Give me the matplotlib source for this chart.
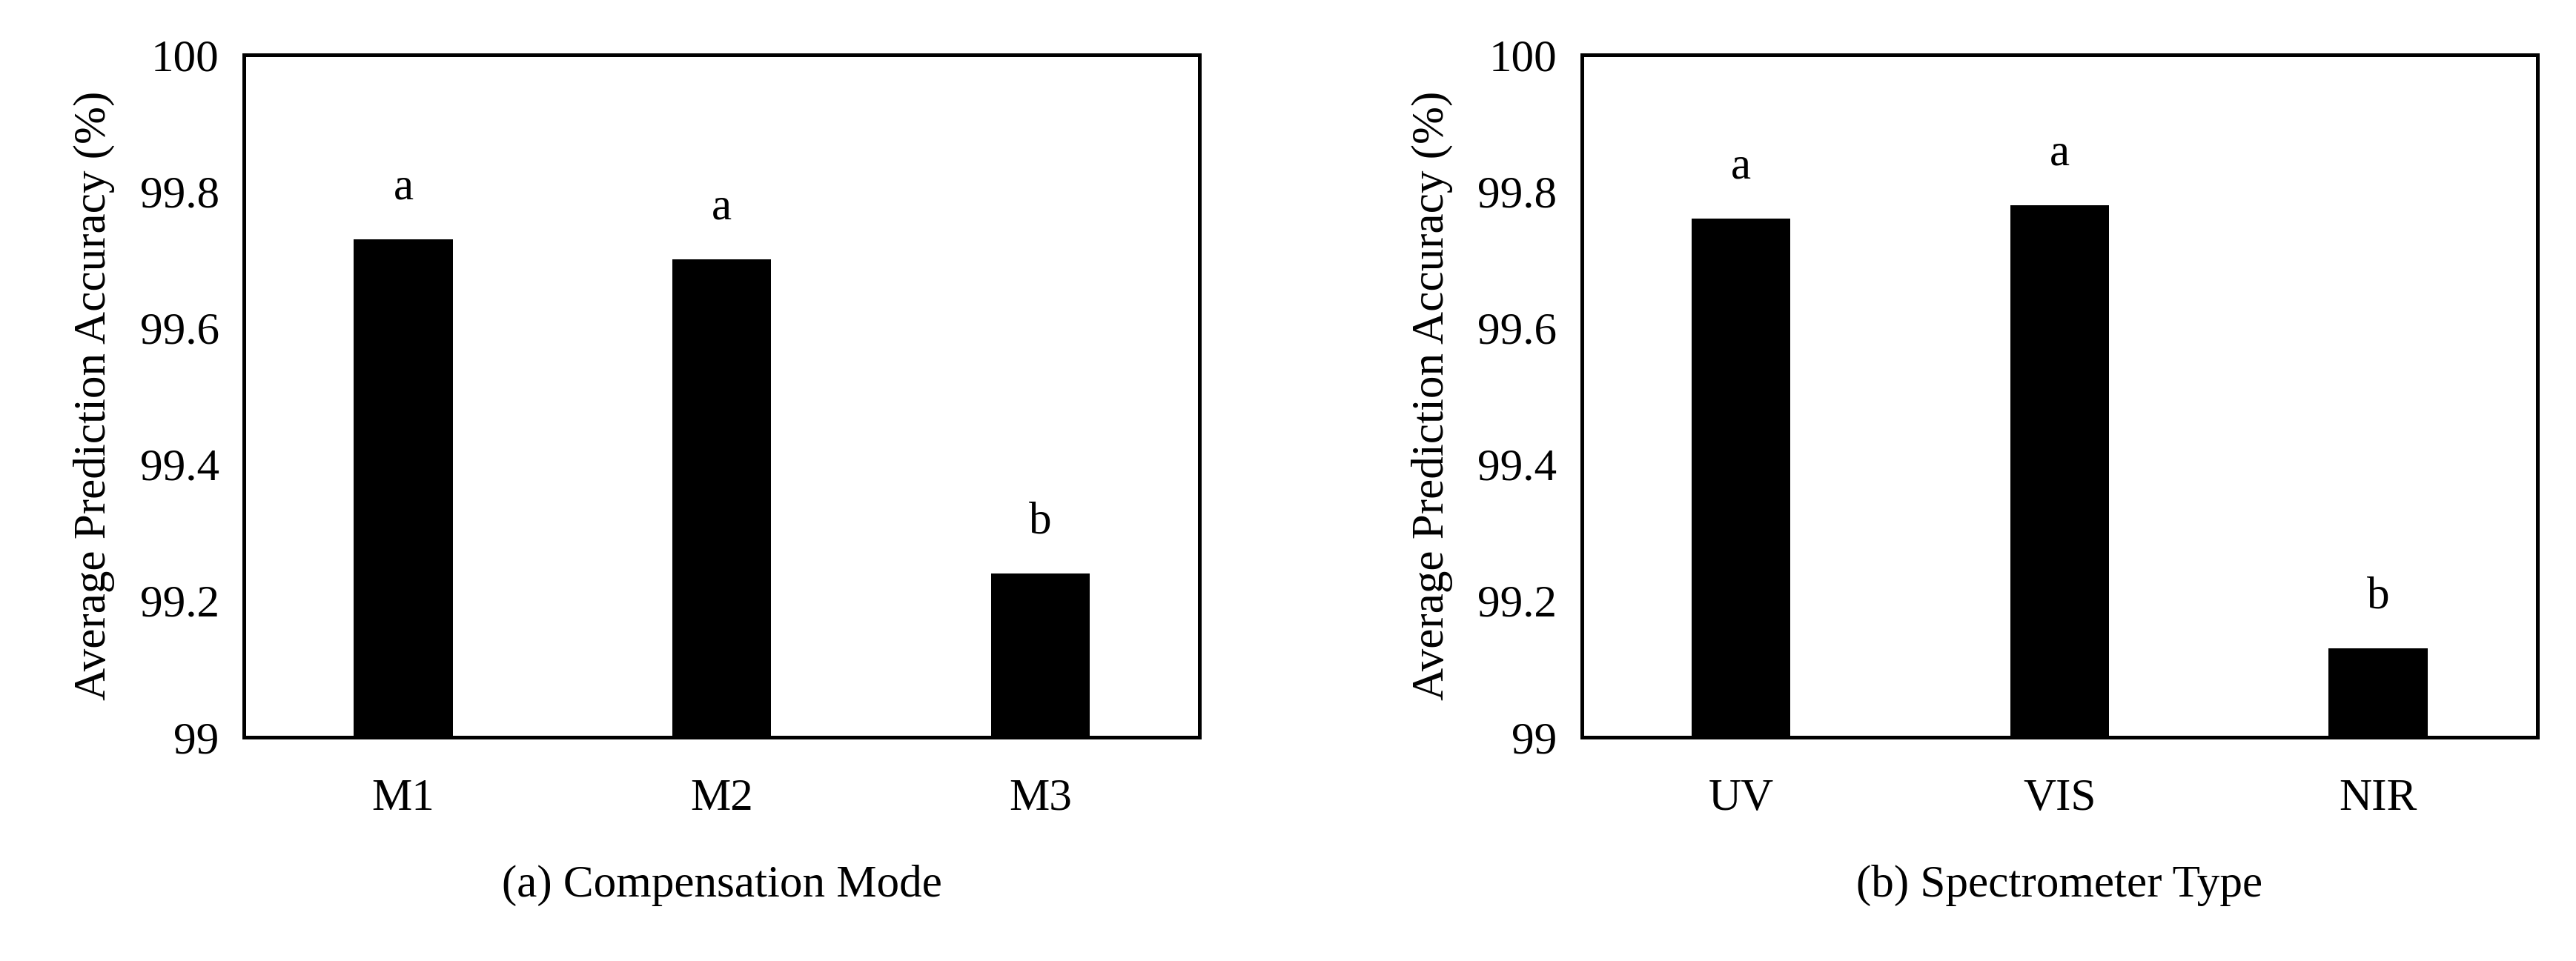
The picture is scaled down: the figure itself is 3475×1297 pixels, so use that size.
import matplotlib
matplotlib.use('Agg')
import matplotlib.pyplot as plt

modes = ['M1', 'M2', 'M3']
mode_acc = [99.73, 99.70, 99.24]
mode_groups = ['a', 'a', 'b']

spectrometers = ['UV', 'VIS', 'NIR']
spec_acc = [99.76, 99.78, 99.13]
spec_groups = ['a', 'a', 'b']

y_ticks = [99, 99.2, 99.4, 99.6, 99.8, 100]
y_tick_labels = ['99', '99.2', '99.4', '99.6', '99.8', '100']

plt.rcParams['font.family'] = ['Liberation Serif', 'DejaVu Serif']
font_size = 22

fig = plt.figure(figsize=(17.375, 6.485), dpi=200)
rects = [[0.0947, 0.233, 0.371, 0.710], [0.614, 0.233, 0.371, 0.710]]
panels = [(modes, mode_acc, mode_groups, '(a) Compensation Mode'),
          (spectrometers, spec_acc, spec_groups, '(b) Spectrometer Type')]

for rect, (cats, vals, groups, title) in zip(rects, panels):
    ax = fig.add_axes(rect)
    x = range(len(cats))
    ax.bar(x, [v - 99 for v in vals], bottom=99, width=0.31, color='black')
    for xi, v, g in zip(x, vals, groups):
        ax.text(xi, v + 0.045, g, ha='center', va='bottom', fontsize=font_size)
    ax.set_xlim(-0.5, len(cats) - 0.5)
    ax.set_ylim(99, 100)
    ax.set_yticks(y_ticks)
    ax.set_yticklabels(y_tick_labels)
    ax.set_xticks(list(x))
    ax.set_xticklabels(cats)
    ax.tick_params(length=0, labelsize=font_size, pad=12)
    ax.tick_params(axis='x', pad=20)
    for s in ax.spines.values():
        s.set_linewidth(1.8)
    ax.set_ylabel('Average Prediction Accuracy (%)', fontsize=font_size, labelpad=12)
    ax.set_xlabel(title, fontsize=font_size, labelpad=22)

fig.savefig('out.png', dpi=200)
